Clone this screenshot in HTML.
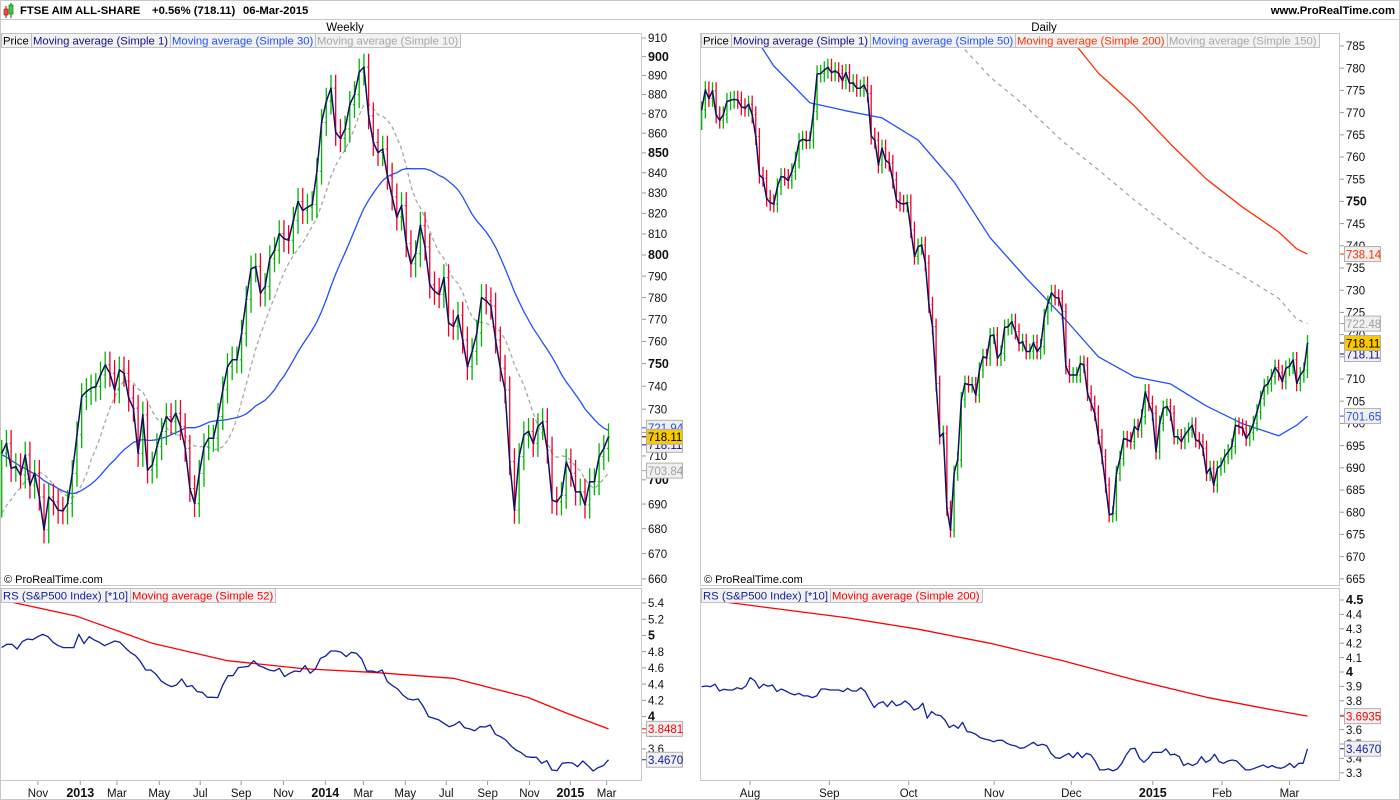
<!DOCTYPE html>
<html><head><meta charset="utf-8">
<style>
html,body{margin:0;padding:0;background:#fff;}
svg{display:block;font-family:"Liberation Sans",sans-serif;}
</style></head>
<body>
<svg id="c" width="1400" height="800" viewBox="0 0 1400 800" xmlns="http://www.w3.org/2000/svg">
<defs>
<clipPath id="clipL"><rect x="1" y="34" width="640" height="551"/></clipPath>
<clipPath id="clipR"><rect x="701" y="34" width="638" height="551"/></clipPath>
<clipPath id="clipLR"><rect x="1" y="589" width="640" height="191"/></clipPath>
<clipPath id="clipRR"><rect x="701" y="589" width="638" height="191"/></clipPath>
</defs>
<rect x="0" y="0" width="1400" height="800" fill="#fff"/>
<rect x="0.5" y="0.5" width="1399" height="799" fill="none" stroke="#c8c8c8"/>
<line x1="0" y1="19.5" x2="1400" y2="19.5" stroke="#c8c8c8"/>
<g>
<line x1="6" y1="6" x2="6" y2="18" stroke="#a00"/><rect x="4" y="9" width="4" height="6" fill="#e85050" stroke="#a00" stroke-width="0.6"/>
<line x1="11" y1="3" x2="11" y2="18" stroke="#060"/><rect x="9" y="5" width="4" height="9" fill="#40d040" stroke="#060" stroke-width="0.6"/>
</g>
<text x="20" y="14" font-size="11.3" font-weight="bold" fill="#000">FTSE AIM ALL-SHARE</text>
<text x="152" y="14" font-size="11.3" font-weight="bold" fill="#000">+0.56% (718.11)</text>
<text x="243" y="14" font-size="11.3" font-weight="bold" fill="#000">06-Mar-2015</text>
<text x="1395" y="14" font-size="11.3" font-weight="bold" fill="#000" text-anchor="end">www.ProRealTime.com</text>
<text x="345" y="31" font-size="11.5" fill="#000" text-anchor="middle">Weekly</text>
<text x="1044" y="31" font-size="11.5" fill="#000" text-anchor="middle">Daily</text>

<rect x="0.5" y="33.5" width="641" height="552" fill="none" stroke="#c8c8c8"/>
<rect x="700.5" y="33.5" width="639" height="552" fill="none" stroke="#c8c8c8"/>
<rect x="0.5" y="588.5" width="641" height="192" fill="none" stroke="#c8c8c8"/>
<rect x="700.5" y="588.5" width="639" height="192" fill="none" stroke="#c8c8c8"/>

<g id="axes"></g>
<g id="gWL" clip-path="url(#clipL)"></g>
<g id="gDR" clip-path="url(#clipR)"></g>
<g id="gWRS" clip-path="url(#clipLR)"></g>
<g id="gDRS" clip-path="url(#clipRR)"></g>
<g id="legends"></g>
<g id="tags"></g>
<text x="4" y="583" font-size="11" fill="#000">© ProRealTime.com</text>
<text x="704" y="583" font-size="11" fill="#000">© ProRealTime.com</text>
</svg>
<script>
// ---------- data ----------
const weeklyHistory = [745,748,742,738,740,735,732,728,730,725,722,720,718,715,712,708,705,702,698,690,685,680,678,682,680,685,688,684,690];
const weeklyClose = [711.1,715.3,704.8,705.5,702,710.4,697.8,702.7,692.9,679.5,
692.9,690.9,687.5,687.2,690.2,702.7,719,735.5,737.7,739.2,
739.9,745,749.4,745.7,738.4,747.2,745.7,734.8,730.4,711.1,
727.5,704.1,706.2,713.9,720.4,726.8,724.6,728.2,722.5,713.2,
696.4,690.2,702.7,713.9,717.5,717.5,726.8,738.4,748.7,751.7,
751.7,763.7,779.2,793.4,794.5,782.1,785.1,798.2,802.2,810.2,
807.8,807,816.6,825.8,821.4,823,824.3,840.8,865.5,876.5,883.3,
860.4,857.3,862.1,874.8,879.9,891.8,894.4,868.9,855.3,850.2,851.9,838.3,828.1,818.2,823.8,805.4,795.8,800.6,814.2,803.8,785.9,782.9,781.4,789.3,768.3,766.8,771.9,760.6,748.7,755.4,763.7,780,778.5,776.1,760.6,748,738.4,707.6,687.5,709.7,718.9,720.4,715.3,722.5,724.6,712.5,691.6,690.9,693.6,707.4,702.7,695,695,689.6,699.2,699.2,709.7,713.2,718.11];
const weeklyRS = [4.850,4.891,4.891,4.833,4.924,4.956,4.948,4.985,5.014,4.985,4.915,4.874,4.850,4.850,4.850,5.014,4.899,4.985,4.944,4.915,4.874,4.903,4.932,4.915,4.850,4.792,4.751,4.677,4.574,4.574,4.521,4.439,4.397,4.369,4.389,4.463,4.369,4.381,4.307,4.299,4.237,4.237,4.233,4.389,4.504,4.504,4.603,4.611,4.619,4.689,4.628,4.603,4.574,4.562,4.595,4.492,4.533,4.562,4.554,4.628,4.533,4.587,4.718,4.747,4.808,4.808,4.792,4.739,4.792,4.780,4.710,4.562,4.562,4.545,4.574,4.430,4.381,4.340,4.266,4.217,4.204,4.217,4.122,3.999,3.978,3.958,3.917,3.875,3.896,3.937,3.863,3.847,3.826,3.875,3.871,3.896,3.781,3.752,3.711,3.641,3.588,3.555,3.506,3.497,3.497,3.423,3.456,3.341,3.333,3.423,3.432,3.427,3.382,3.452,3.395,3.329,3.370,3.395,3.467];
const weeklyRSMaWeek = [0,16,32,48,64,80,96,112,120,129];
const weeklyRSMa = [5.437,5.236,4.903,4.689,4.591,4.541,4.471,4.233,4.044,3.848];

const dailyClose = [770.6,775.1,773.2,774.9,769.5,768.3,769.5,772.5,772.8,773,772.8,771.3,771,771.9,769.5,764.6,755.9,755.2,750.7,749.7,749.4,753.3,755.6,755.4,754.7,756.7,759.3,763.5,764,763.7,763.8,770.2,778.7,778.8,779.6,780.2,779,779.4,778.8,777.2,779,776.6,776.7,775.5,775.5,776.2,774.3,764.7,763.8,758.2,762,759.3,758.6,754.8,750.3,749.6,749.4,749.7,743.6,737.6,739.8,740.2,736.1,726.7,721.8,709,697,697.8,680.9,676,688.8,691.8,705.3,709,708.7,708.7,706.4,712,715,714.7,719.7,719.9,714.7,715.8,721.6,721.8,
722.9,720.7,718.0,718.4,716.2,716.2,718.2,716.2,717.3,724.0,727.0,729.4,728.4,728.2,725.2,712.8,710.9,710.9,710.9,713.5,713.1,706.8,704.5,702.3,697.0,692.5,686.1,679.4,679.7,688.7,692.1,696.6,696.3,695.9,699.3,698.5,701.5,707.1,704.5,702.3,693.6,700.0,703.4,703.8,702.3,697.0,697.0,695.9,697.4,698.5,699.6,696.3,695.9,694.4,688.7,689.9,686.1,689.9,690.6,692.5,693.6,694.8,699.6,699.3,698.9,696.6,697.9,700.0,702.6,705.6,708.3,708.9,710.5,712.6,711.4,709.4,712.4,712.9,714.3,709.0,710.9,712.0,718.11];
const dailyMaDay = [0,10,20,30,40,50,60,70,80,90,100,110,120,130,140,150,160,165,168];
const dailyMa50 = [801,793.1,780.5,772.2,770.4,768.8,763.8,754.4,741.8,732.7,724.2,715,710.5,708.9,703.9,699.9,697.2,699.6,701.65];
const dailyMa150Day = [60,70,80,90,100,110,120,130,140,150,160,165,168];
const dailyMa150 = [796.5,786.8,778,771.3,763.6,757.1,750.3,744,737.9,733.2,728.2,723.5,722.48];
const dailyMa200Day = [90,100,110,120,130,140,150,160,165,168];
const dailyMa200 = [798,789,778.9,771.5,762.9,755,748.7,743.1,739.3,738.14];
const dailyRS = [3.898,3.903,3.898,3.915,3.868,3.880,3.875,3.875,3.891,3.882,3.903,3.961,3.938,3.887,3.915,3.901,3.910,3.864,3.882,3.868,3.852,3.841,3.852,3.834,3.834,3.822,3.834,3.882,3.882,3.875,3.875,3.875,3.864,3.887,3.868,3.868,3.891,3.864,3.806,3.753,3.783,3.794,3.760,3.799,3.766,3.776,3.799,3.776,3.736,3.748,3.783,3.679,3.725,3.702,3.697,3.667,3.614,3.632,3.609,3.651,3.586,3.581,3.567,3.544,3.535,3.528,3.516,3.526,3.526,3.505,3.493,3.486,3.470,3.475,3.493,3.512,3.489,3.498,3.489,3.435,3.405,3.401,3.419,3.435,3.405,3.442,3.405,3.435,3.424,3.382,3.320,3.320,3.327,3.313,3.327,3.366,3.424,3.466,3.470,3.401,3.373,3.401,3.442,3.442,3.442,3.466,3.424,3.429,3.412,3.350,3.366,3.350,3.366,3.412,3.373,3.389,3.429,3.378,3.366,3.382,3.389,3.382,3.350,3.320,3.320,3.331,3.343,3.354,3.336,3.350,3.336,3.331,3.343,3.366,3.336,3.366,3.366,3.467];
const dailyRSMaDay = [0,20,40,60,80,100,120,140,160,168];
const dailyRSMa = [4.507,4.442,4.378,4.297,4.199,4.079,3.945,3.824,3.729,3.6935];

const leftPriceTicks = [910,900,890,880,870,860,850,840,830,820,810,800,790,780,770,760,750,740,730,720,710,700,690,680,670,660];
const leftPriceBold = [900,850,800,750,700];
const rightPriceTicks = [785,780,775,770,765,760,755,750,745,740,735,730,725,720,715,710,705,700,695,690,685,680,675,670,665];
const rightPriceBold = [750];
const leftRSTicks = ["5.4","5.2","5","4.8","4.6","4.4","4.2","4","3.8","3.6"];
const rightRSTicks = ["4.5","4.4","4.3","4.2","4.1","4","3.9","3.8","3.7","3.6","3.5","3.4","3.3"];
const weeklyXLabels = ["Nov","2013","Mar","May","Jul","Sep","Nov","2014","Mar","May","Jul","Sep","Nov","2015","Mar"];
const weeklyXWeek = [7.7,16.7,24.5,33.5,42.2,50.9,59.9,68.8,76.9,85.8,94.5,103.3,112.2,120.9,128.6];
const dailyXLabels = ["Aug","Sep","Oct","Nov","Dec","2015","Feb","Mar"];
const dailyXDay = [13.4,35.4,57.4,81.1,102.5,125.1,144.3,163];

// ---------- scales ----------
const yL = v => 38 + 1684*Math.log(910/v);
const yR = v => 46 + (785-v)*4.44;
const yLRS = v => 603 + (5.4-v)*81.1;
const yRRS = v => 600 + (4.5-v)*144;
const nW = weeklyClose.length, nD = dailyClose.length;
const xW = i => 1.7 + i*(608.5-1.7)/(nW-1);
const xD = i => 701.7 + i*(1307.5-701.7)/(nD-1);
const xWRS = i => 1.7 + i*(608.5-1.7)/(weeklyRS.length-1);
const xDRS = i => 701.7 + i*(1307.5-701.7)/(dailyRS.length-1);

const NS = "http://www.w3.org/2000/svg";
function mk(tag, attrs, parent){const e=document.createElementNS(NS,tag);for(const k in attrs)e.setAttribute(k,attrs[k]);parent.appendChild(e);return e;}
function pathFrom(xs, ys){return xs.map((x,i)=>(i?"L":"M")+x.toFixed(1)+","+ys[i].toFixed(1)).join("");}

function sma(all, n, offset){const r=[];for(let i=0;i<nW;i++){const end=offset+i;let s=0,c=0;for(let j=Math.max(0,end-n+1);j<=end;j++){s+=all[j];c++;}r.push(s/c);}return r;}
const allW = weeklyHistory.concat(weeklyClose);
const ma30 = sma(allW,30,weeklyHistory.length);
const ma10 = sma(allW,10,weeklyHistory.length);

function drawBars(g, closes, prevStart, xf, yf, wickPct, tw){
  for(let i=0;i<closes.length;i++){
    const o = i? closes[i-1] : prevStart, c = closes[i];
    const hi = Math.max(o,c)*(1+wickPct), lo = Math.min(o,c)*(1-wickPct);
    const col = c>=o ? "#00b400" : "#f0002a";
    const x = xf(i);
    const b = mk("g",{},g);
    
    
    mk("line",{x1:x,y1:yf(hi),x2:x,y2:yf(lo),stroke:col,"stroke-width":1.3},b);
    mk("line",{x1:x-tw,y1:yf(o),x2:x,y2:yf(o),stroke:col,"stroke-width":1},b);
    mk("line",{x1:x,y1:yf(c),x2:x+tw,y2:yf(c),stroke:col,"stroke-width":1},b);
  }
}
function line(g, xs, ys, col, w, dash, name){
  const p = mk("path",{d:pathFrom(xs,ys),fill:"none",stroke:col,"stroke-width":w,"stroke-linejoin":"round"},g);
  if(dash)p.setAttribute("stroke-dasharray",dash);
  
  
}

const gWL=document.getElementById("gWL"), gDR=document.getElementById("gDR"), gWRS=document.getElementById("gWRS"), gDRS=document.getElementById("gDRS");
const idxW = weeklyClose.map((_,i)=>i), idxD = dailyClose.map((_,i)=>i);
line(gWL, idxW.map(xW), ma10.map(yL), "#a8a8a8", 1.3, "4,3", "ma10-weekly-line");
line(gWL, idxW.map(xW), ma30.map(yL), "#2050ff", 1.3, null, "ma30-weekly-line");
drawBars(gWL, weeklyClose, weeklyHistory[weeklyHistory.length-1], xW, yL, 0.008, 1.5);
line(gWL, idxW.map(xW), weeklyClose.map(yL), "#101060", 1.5, null, "close-weekly-line");

line(gDR, dailyMa150Day.map(xD), dailyMa150.map(yR), "#a0a0a0", 1.2, "4,4", "ma150-daily-line");
line(gDR, dailyMa200Day.map(xD), dailyMa200.map(yR), "#ff3000", 1.3, null, "ma200-daily-line");
line(gDR, dailyMaDay.map(xD), dailyMa50.map(yR), "#2050ff", 1.3, null, "ma50-daily-line");
drawBars(gDR, dailyClose, 768, xD, yR, 0.0025, 1.2);
line(gDR, idxD.map(xD), dailyClose.map(yR), "#101060", 1.5, null, "close-daily-line");

line(gWRS, weeklyRSMaWeek.map(w=>xW(Math.min(w,nW-1))), weeklyRSMa.map(yLRS), "#ff0000", 1.3, null, "rs-ma52-line");
line(gWRS, weeklyRS.map((_,i)=>xWRS(i)), weeklyRS.map(yLRS), "#1020a0", 1.3, null, "rs-weekly-line");
line(gDRS, dailyRSMaDay.map(d=>xD(Math.min(d,nD-1))), dailyRSMa.map(yRRS), "#ff0000", 1.3, null, "rs-ma200-line");
line(gDRS, dailyRS.map((_,i)=>xDRS(i)), dailyRS.map(yRRS), "#1020a0", 1.3, null, "rs-daily-line");

// ---------- axes ----------
const ax = document.getElementById("axes");
function yTicks(vals, yf, x0, boldSet, name){
  vals.forEach(v=>{
    const n=parseFloat(v), y=yf(n);
    mk("line",{x1:x0,y1:y,x2:x0+4,y2:y,stroke:"#999"},ax);
    const b=boldSet.includes(n);
    const t=mk("text",{x:x0+6,y:y+4.2,"font-size":b?12.5:11.5,"font-weight":b?"bold":"normal",fill:"#111"},ax);
    t.textContent=v;
    
    
  });
}
yTicks(leftPriceTicks, yL, 642, leftPriceBold, "weekly-price-tick");
yTicks(rightPriceTicks, yR, 1340, rightPriceBold, "daily-price-tick");
yTicks(leftRSTicks, yLRS, 642, [5,4], "weekly-rs-tick");
yTicks(rightRSTicks, yRRS, 1340, [4.5,4], "daily-rs-tick");
function xLabels(labels, idx, xf, name){
  labels.forEach((l,i)=>{
    const x=xf(idx[i]);
    mk("line",{x1:x,y1:781,x2:x,y2:785,stroke:"#999"},ax);
    const bold=/^\d{4}$/.test(l);
    const t=mk("text",{x:x,y:797,"font-size":bold?12.5:11.5,"font-weight":bold?"bold":"normal","text-anchor":"middle",fill:"#111"},ax);
    t.textContent=l;
    
    
  });
}
xLabels(weeklyXLabels, weeklyXWeek, xW, "weekly-x-label");
xLabels(dailyXLabels, dailyXDay, xD, "daily-x-label");

// ---------- legends ----------
const lg = document.getElementById("legends");
function legend(x, y, items, name){
  let cx=x;
  items.forEach(it=>{
    const r=mk("rect",{x:cx+0.5,y:y+0.5,width:10,height:14,fill:"#f2f2f2",stroke:"#c0c0c0"},lg);
    const t=mk("text",{x:cx+2,y:y+11.5,"font-size":11.3,fill:it[1]},lg);
    t.textContent=it[0];
    
    
    let w=0; try{w=t.getComputedTextLength();}catch(e){}
    if(!w) w=it[0].length*5.4;
    w=Math.round(w+4);
    r.setAttribute("width",w);
    cx+=w;
  });
}
legend(1,33,[["Price","#000"],["Moving average (Simple 1)","#101080"],["Moving average (Simple 30)","#2050ff"],["Moving average (Simple 10)","#a8a8a8"]],"weekly-legend-entry");
legend(701,33,[["Price","#000"],["Moving average (Simple 1)","#101080"],["Moving average (Simple 50)","#2050ff"],["Moving average (Simple 200)","#ff3000"],["Moving average (Simple 150)","#a8a8a8"]],"daily-legend-entry");
legend(1,588,[["RS (S&P500 Index) [*10]","#1020a0"],["Moving average (Simple 52)","#ff0000"]],"weekly-rs-legend-entry");
legend(701,588,[["RS (S&P500 Index) [*10]","#1020a0"],["Moving average (Simple 200)","#ff0000"]],"daily-rs-legend-entry");

// ---------- value tags ----------
const tg = document.getElementById("tags");
function tag(x, y, txt, col, bg, name){
  mk("line",{x1:x-4,y1:y,x2:x,y2:y,stroke:col},tg);
  mk("rect",{x:x+0.5,y:y-7.5,width:36,height:15,fill:bg,stroke:"#b0b0b0"},tg);
  const t=mk("text",{x:x+2,y:y+4.3,"font-size":11.5,fill:col},tg);
  t.textContent=txt;
  
  
}
tag(646, yL(721.94), "721.94", "#2050ff", "#f0f0f0", "ma30-value-tag");
tag(646, yL(703.84), "703.84", "#a0a0a0", "#f0f0f0", "ma10-value-tag");
tag(646, yL(718.11)+8, "718.11", "#101080", "#f0f0f0", "ma1-value-tag");
tag(646, yL(718.11), "718.11", "#000", "#f8c800", "price-value-tag");
tag(1344, yR(738.14), "738.14", "#ff3000", "#f0f0f0", "ma200-value-tag");
tag(1344, yR(722.48), "722.48", "#a0a0a0", "#f0f0f0", "ma150-value-tag");
tag(1344, yR(718.11)+11, "718.11", "#101080", "#f0f0f0", "daily-ma1-value-tag");
tag(1344, yR(718.11), "718.11", "#000", "#f8c800", "daily-price-value-tag");
tag(1344, yR(701.65), "701.65", "#2050ff", "#f0f0f0", "ma50-value-tag");
tag(646, yLRS(3.8481), "3.8481", "#ff0000", "#f0f0f0", "rs-ma52-value-tag");
tag(646, yLRS(3.467), "3.4670", "#1020a0", "#f0f0f0", "rs-weekly-value-tag");
tag(1344, yRRS(3.6935), "3.6935", "#ff0000", "#f0f0f0", "rs-ma200-value-tag");
tag(1344, yRRS(3.467), "3.4670", "#1020a0", "#f0f0f0", "rs-daily-value-tag");
</script>
</body></html>
